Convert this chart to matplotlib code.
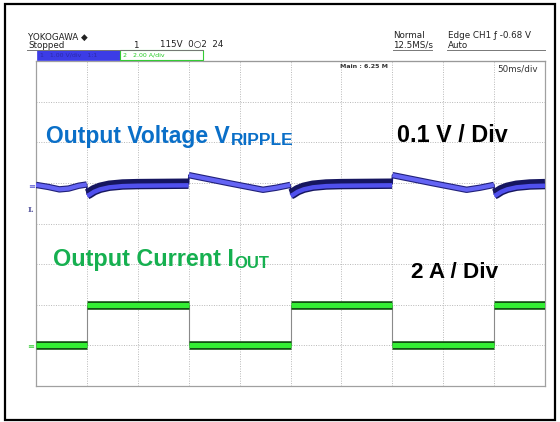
import numpy as np
import matplotlib.pyplot as plt
from matplotlib.patches import Rectangle
from matplotlib.lines import Line2D

plt.rcParams['font.family'] = ['Liberation Sans', 'DejaVu Sans']

# time base 50 ms/div, 10 div ; vertical 8 div (screen divisions)
load_edges_ms = [0, 50, 150, 250, 350, 450, 500]
current_div = [-3, -2, -3, -2, -3, -2]   # 2 A/div, low / high load
high_load = [False, True, False, True, False, True]

# output voltage ripple, 0.1 V/div
v_time_ms = [0, 12, 23, 32, 42, 49.8,
             50.2, 52, 57, 63, 72, 85, 100, 149.8,
             150.2, 190, 223, 236, 249.8,
             250.2, 252, 257, 263, 272, 285, 300, 349.8,
             350.2, 390, 423, 436, 449.8,
             450.2, 452, 457, 463, 472, 485, 500]
v_div = [0.95, 0.90, 0.84, 0.86, 0.93, 0.96,
         0.72, 0.74, 0.82, 0.88, 0.93, 0.96, 0.97, 0.98,
         1.19, 0.99, 0.83, 0.88, 0.95,
         0.72, 0.74, 0.82, 0.88, 0.93, 0.96, 0.97, 0.98,
         1.19, 0.99, 0.83, 0.88, 0.95,
         0.72, 0.74, 0.82, 0.88, 0.93, 0.96, 0.97]

W, H = 560, 422


def fx(x):
    return x / W


def fy(y):
    return 1 - y / H


fig = plt.figure(figsize=(5.6, 4.22), dpi=100)
ax = fig.add_axes([fx(36), fy(386), (545 - 36) / W, (386 - 61) / H])
ax.set_xlim(0, 500)
ax.set_ylim(-4, 4)
ax.set_xticks(np.arange(0, 501, 50))
ax.set_yticks(np.arange(-4, 5, 1))
ax.tick_params(length=0, labelbottom=False, labelleft=False)
ax.grid(True, ls=(0, (1, 1.5)), color='#b8b8b8', lw=0.7)
for s in ax.spines.values():
    s.set_color('#a0a0a0')
    s.set_linewidth(0.9)

# voltage trace
vt = np.array(v_time_ms)
vv = np.array(v_div)
ax.plot(vt, vv, color='#141470', lw=1.2, zorder=3)
for i in range(len(load_edges_ms) - 1):
    m = (vt >= load_edges_ms[i]) & (vt <= load_edges_ms[i + 1])
    if high_load[i]:
        ax.plot(vt[m], vv[m], color='#161660', lw=7.5, solid_capstyle='butt', zorder=4)
        ax.plot(vt[m], vv[m] - 0.04, color='#5050ee', lw=3.2, solid_capstyle='butt', zorder=5)
    else:
        ax.plot(vt[m], vv[m], color='#20207a', lw=4.6, solid_capstyle='butt', zorder=4)
        ax.plot(vt[m], vv[m], color='#6464f4', lw=3.0, solid_capstyle='butt', zorder=5)

# current trace
for i in range(len(current_div)):
    xs = [load_edges_ms[i], load_edges_ms[i + 1]]
    ys = [current_div[i], current_div[i]]
    ax.plot(xs, ys, color='#125012', lw=6.2, solid_capstyle='butt', zorder=4)
    ax.plot(xs, ys, color='#33ee33', lw=3.6, solid_capstyle='butt', zorder=5)
    if i > 0:
        ax.vlines(load_edges_ms[i], min(current_div[i - 1], current_div[i]),
                  max(current_div[i - 1], current_div[i]), color='#8a8a8a', lw=0.8, zorder=3)

# annotations
fig.text(fx(46), fy(143), 'Output Voltage V', fontsize=16.5, weight='bold',
         color='#0a6fc8', va='baseline')
fig.text(fx(231), fy(145), 'RIPPLE', fontsize=12.5, weight='bold',
         color='#0a6fc8', va='baseline')
fig.text(fx(397), fy(142), '0.1 V / Div', fontsize=16.8, weight='bold',
         color='black', va='baseline')
fig.text(fx(53), fy(266), 'Output Current I', fontsize=16.8, weight='bold',
         color='#16b050', va='baseline')
fig.text(fx(234), fy(268), 'OUT', fontsize=12, weight='bold',
         color='#16b050', va='baseline')
fig.text(fx(411), fy(278), '2 A / Div', fontsize=16.2, weight='bold',
         color='black', va='baseline')

# scope header
small = dict(fontsize=6.3, color='#222222', va='center', family=['DejaVu Sans'])
fig.text(fx(28), fy(37), 'YOKOGAWA \u25c6', **small)
fig.text(fx(28), fy(45), 'Stopped', **small)
fig.text(fx(133), fy(45), '1', **small)
fig.text(fx(160), fy(45), '115V  0\u25cb2  24', **small)
fig.text(fx(393), fy(36), 'Normal', **small)
fig.text(fx(393), fy(45), '12.5MS/s', **small)
fig.text(fx(448), fy(36), 'Edge CH1 \u0192 -0.68 V', **small)
fig.text(fx(448), fy(45), 'Auto', **small)
fig.text(fx(340), fy(67), 'Main : 6.25 M', fontsize=4.5, weight='bold',
         color='#333333', va='center', family=['DejaVu Sans'])
fig.text(fx(497), fy(69), '50ms/div', fontsize=6.3, color='#333333',
         va='center', family=['DejaVu Sans'])

for x0, x1 in [(27, 203), (393, 432), (447, 545)]:
    fig.add_artist(Line2D([fx(x0), fx(x1)], [fy(49.5), fy(49.5)], color='#777777',
                          lw=0.7, transform=fig.transFigure))
fig.add_artist(Line2D([fx(203), fx(545)], [fy(61), fy(61)], color='#999999',
                      lw=0.8, transform=fig.transFigure))
fig.add_artist(Rectangle((fx(37), fy(60)), (120 - 37) / W, 10 / H, transform=fig.transFigure,
                         fc='#3c3ce6', ec='#3c3ce6', lw=0.5))
fig.add_artist(Rectangle((fx(120), fy(60)), (203 - 120) / W, 10 / H, transform=fig.transFigure,
                         fc='white', ec='#33cc33', lw=0.8))
fig.text(fx(40), fy(55), '1   1.00 V/div   1:1', fontsize=4.5, color='#2a2aa8',
         va='center', family=['DejaVu Sans'])
fig.text(fx(123), fy(55), '2   2.00 A/div', fontsize=4.5, color='#22cc22',
         va='center', family=['DejaVu Sans'])

# channel markers on the left
fig.text(fx(28), fy(186), '\u2261', fontsize=6, color='#5050d0', va='center',
         family=['DejaVu Sans'])
fig.text(fx(28), fy(210), 'I.', fontsize=6, color='#5a5aa0', va='center',
         weight='bold', family=['DejaVu Serif'])
fig.text(fx(27), fy(347), '\u2261', fontsize=6, color='#33cc33', va='center',
         family=['DejaVu Sans'])

# outer frame
fig.add_artist(Rectangle((fx(5), fy(420)), (555 - 5) / W, (420 - 4) / H,
                         transform=fig.transFigure, fill=False, ec='black', lw=1.6))

fig.savefig('out.png', dpi=100)
